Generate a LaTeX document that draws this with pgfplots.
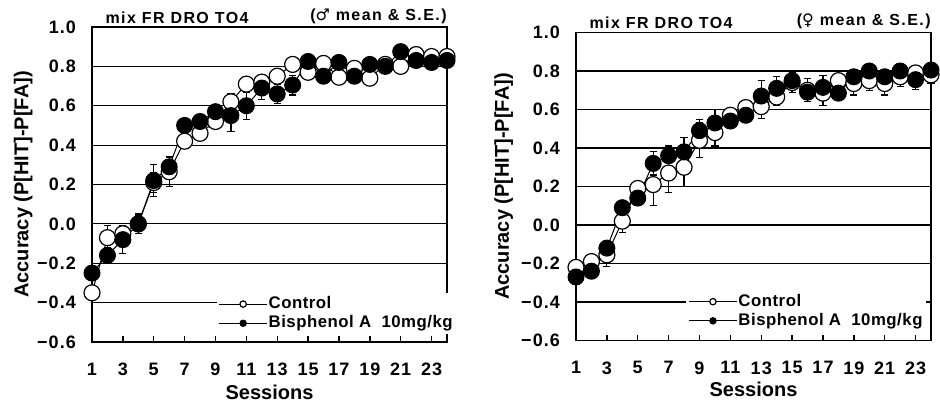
\documentclass[border=0pt]{standalone}
\usepackage{fontspec}
\setmainfont{Liberation Sans}
\newfontfamily\symfont{DejaVu Sans}
\newfontfamily\titlefont[LetterSpace=9]{Liberation Sans}
\newfontfamily\legfont[LetterSpace=3]{Liberation Sans}
\newfontfamily\tickfont[LetterSpace=6]{Liberation Sans}
\usepackage{pgfplots}
\pgfplotsset{compat=1.18}
\usepackage{pgfplotstable}

\pgfplotstableread{
s c ce b be
1 -0.35 0.03 -0.25 0.03
2 -0.07 0.06 -0.16 0.04
3 -0.05 0.04 -0.08 0.07
4 0.00 0.04 0.00 0.05
5 0.21 0.05 0.22 0.08
6 0.265 0.075 0.29 0.05
7 0.42 0.03 0.50 0.03
8 0.46 0.03 0.52 0.03
9 0.52 0.03 0.57 0.03
10 0.62 0.04 0.55 0.08
11 0.71 0.03 0.60 0.07
12 0.72 0.03 0.69 0.06
13 0.75 0.03 0.66 0.05
14 0.81 0.03 0.705 0.05
15 0.77 0.03 0.825 0.03
16 0.815 0.03 0.75 0.03
17 0.745 0.03 0.82 0.03
18 0.79 0.03 0.75 0.03
19 0.74 0.03 0.81 0.03
20 0.81 0.03 0.80 0.03
21 0.80 0.03 0.875 0.03
22 0.86 0.03 0.83 0.03
23 0.85 0.03 0.82 0.03
24 0.85 0.03 0.83 0.03
}\male

\pgfplotstableread{
s c ce b be
1 -0.22 0.03 -0.27 0.03
2 -0.19 0.03 -0.24 0.03
3 -0.155 0.06 -0.12 0.03
4 0.02 0.06 0.09 0.03
5 0.19 0.03 0.14 0.03
6 0.21 0.11 0.32 0.06
7 0.27 0.10 0.36 0.05
8 0.30 0.10 0.38 0.075
9 0.44 0.09 0.49 0.06
10 0.48 0.07 0.53 0.07
11 0.57 0.03 0.54 0.03
12 0.61 0.03 0.57 0.03
13 0.615 0.06 0.67 0.08
14 0.665 0.045 0.71 0.06
15 0.74 0.05 0.75 0.03
16 0.70 0.06 0.69 0.03
17 0.685 0.065 0.715 0.06
18 0.75 0.03 0.685 0.03
19 0.735 0.06 0.77 0.03
20 0.75 0.05 0.80 0.03
21 0.735 0.06 0.77 0.03
22 0.77 0.05 0.80 0.03
23 0.79 0.03 0.755 0.05
24 0.78 0.045 0.805 0.03
}\female

\pgfplotsset{
 panel/.style={
  scale only axis, width=177.5pt, xmin=1, xmax=24, ymin=-0.6, ymax=1.0,
  axis line style={line width=0.9pt},
  xtick={1,3,...,23}, xticklabels={1,3,5,7,9,11,13,15,17,19,21,23},
  ytick={-0.6,-0.4,-0.2,0,0.2,0.4,0.6,0.8,1.0},
  yticklabels={−0.6,−0.4,−0.2,0.0,0.2,0.4,0.6,0.8,1.0},
  xtick pos=left, tick align=inside, major tick length=3pt,
  xtick style={black, line width=0.7pt},
  ytick style={draw=none},
  ymajorgrids, grid style={black, line width=0.6pt},
  ticklabel style={font=\tickfont\fontsize{9}{10}\selectfont\bfseries},
  xticklabel style={yshift=-7pt},
  yticklabel style={xshift=-4.5pt},
  label style={font=\fontsize{10}{12}\selectfont\bfseries},
  xlabel={Sessions},
  ylabel={Accuracy (P[HIT]-P[FA])},
  clip=false,
  legend style={draw=none, fill=white, anchor=west, font=\legfont\fontsize{8.4}{9.5}\selectfont\bfseries, row sep=1pt, inner sep=1pt, nodes={inner sep=0.5pt}},
  legend cell align=left,
  legend image code/.code={\draw[#1, mark size=1.6pt, mark repeat=2, mark phase=2] plot coordinates {(0pt,0pt) (12pt,0pt) (24pt,0pt)};},
 },
 ctrl/.style={black, line width=0.5pt, mark=*, mark size=4pt, mark options={fill=white, draw=black, line width=0.6pt}},
 bpa/.style={black, line width=0.5pt, mark=*, mark size=4pt, mark options={fill=black, draw=black}},
 eb/.style={error bars/.cd, y dir=both, y explicit, error bar style={black, line width=0.6pt}, error mark options={rotate=90, mark size=1.8pt, black, line width=0.6pt}},
}

\begin{document}
\begin{tikzpicture}
\useasboundingbox (0,0) rectangle (470pt,202pt);
\begin{axis}[panel, at={(46pt,31pt)}, anchor=south west, height=157.5pt,
  ylabel style={at={(axis description cs:-0.194,0.5)}, anchor=center},
  xlabel style={at={(axis description cs:0.5,-0.159)}, anchor=center},
  legend style={at={(axis description cs:0.35,0.09)}}]
\addplot[ctrl, eb] table[x=s, y=c, y error=ce] {\male};
\addlegendentry{Control}
\addplot[bpa, eb] table[x=s, y=b, y error=be] {\male};
\addlegendentry{Bisphenol A\ \ 10mg/kg}
\node[anchor=south west, inner sep=0pt, font=\titlefont\fontsize{8}{9}\selectfont\bfseries] at (axis description cs:0.037,1.01) {mix FR DRO TO4};
\node[anchor=south east, inner sep=0pt, font=\titlefont\fontsize{8}{9}\selectfont\bfseries] at (axis description cs:1.0,1.01) {({\symfont ♂} mean \& S.E.)};
\end{axis}
\begin{axis}[panel, at={(288pt,31.75pt)}, anchor=south west, height=154pt,
  ylabel style={at={(axis description cs:-0.204,0.5)}, anchor=center},
  xlabel style={at={(axis description cs:0.5,-0.16)}, anchor=center},
  legend style={at={(axis description cs:0.31,0.095)}}]
\addplot[ctrl, eb] table[x=s, y=c, y error=ce] {\female};
\addlegendentry{Control}
\addplot[bpa, eb] table[x=s, y=b, y error=be] {\female};
\addlegendentry{Bisphenol A\ \ 10mg/kg}
\node[anchor=south west, inner sep=0pt, font=\titlefont\fontsize{8}{9}\selectfont\bfseries] at (axis description cs:0.037,1.01) {mix FR DRO TO4};
\node[anchor=south east, inner sep=0pt, font=\titlefont\fontsize{8}{9}\selectfont\bfseries] at (axis description cs:1.0,1.01) {({\symfont ♀} mean \& S.E.)};
\end{axis}
\end{tikzpicture}
\end{document}
